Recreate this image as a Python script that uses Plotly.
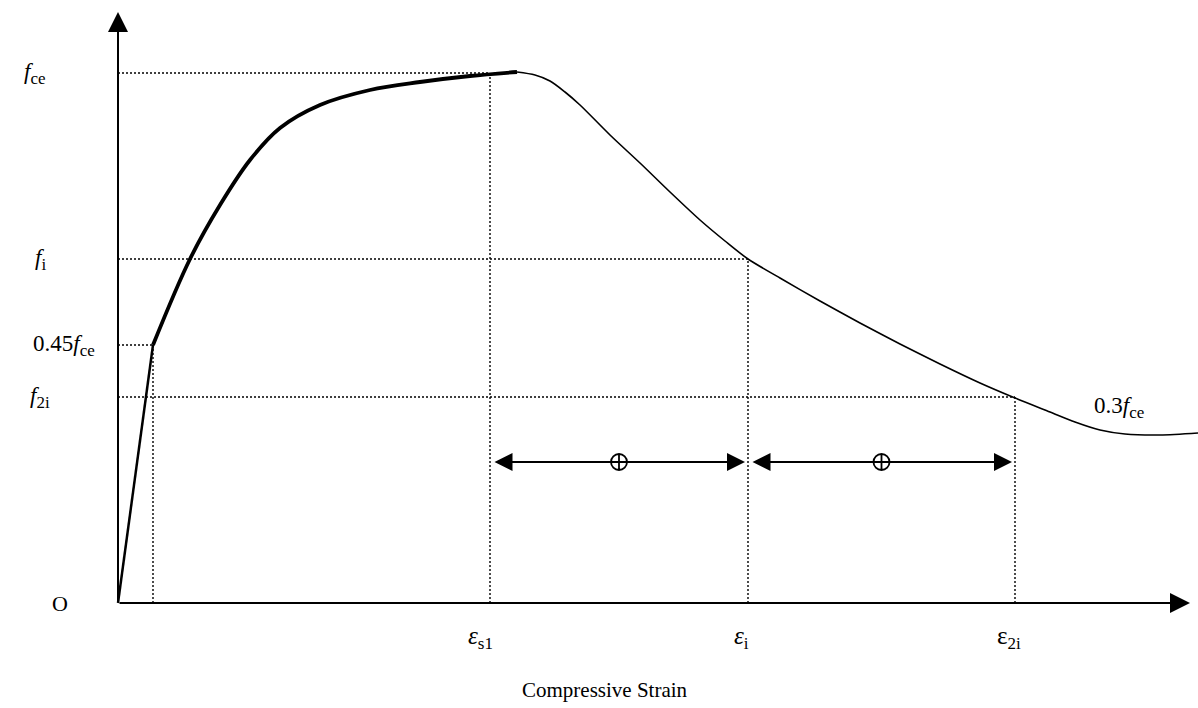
import plotly.graph_objects as go

# ---- data (strain / stress in drawing units, origin at O) ----
strain_initial = [0, 24, 35]
stress_initial = [0, 180, 258]

strain_rise = [35, 72, 102, 132, 162, 202, 252, 302, 352, 399]
stress_rise = [258, 344, 398, 443, 475, 498, 513, 521, 527, 531]

strain_fall = [399, 417, 432, 447, 462, 492, 522, 552, 582, 607, 630, 662, 702, 742, 782,
               822, 862, 897, 932, 957, 982, 1007, 1042, 1080]
stress_fall = [531, 528, 522, 511, 498, 468, 440, 411, 383, 362, 344, 325, 302, 280, 259,
               239, 220, 205, 191, 181, 173, 169, 168, 170]

# key levels
eps_045 = 35
eps_s1 = 372
eps_i = 630
eps_2i = 897
f_ce = 530
f_i = 344
f_045 = 258
f_2i = 206
arrow_level = 141

SUB = "<sub><span style='font-size:17px'>{}</span></sub>"
stress_labels = ["<i>f</i>" + SUB.format("ce"), "<i>f</i>" + SUB.format("i"),
                 "0.45<i>f</i>" + SUB.format("ce"), "<i>f</i>" + SUB.format("2i")]
strain_labels = ["<i>ε</i>" + SUB.format("s1"), "<i>ε</i>" + SUB.format("i"),
                 "ε" + SUB.format("2i")]
tail_label = "0.3<i>f</i>" + SUB.format("ce")

FONT = "Liberation Serif"

fig = go.Figure()

dot = dict(color="black", width=1.4, dash="2px,2px")

# dotted guide lines
guides = [
    ([0, eps_s1], [f_ce, f_ce]), ([eps_s1, eps_s1], [0, f_ce]),
    ([0, eps_i], [f_i, f_i]), ([eps_i, eps_i], [0, f_i]),
    ([0, eps_045], [f_045, f_045]), ([eps_045, eps_045], [0, f_045]),
    ([0, eps_2i], [f_2i, f_2i]), ([eps_2i, eps_2i], [0, f_2i]),
]
for gx, gy in guides:
    fig.add_trace(go.Scatter(x=gx, y=gy, mode="lines", line=dot,
                             hoverinfo="skip", showlegend=False))

# curve
fig.add_trace(go.Scatter(x=strain_initial, y=stress_initial, mode="lines",
                         line=dict(color="black", width=2.5), showlegend=False))
fig.add_trace(go.Scatter(x=strain_rise, y=stress_rise, mode="lines",
                         line=dict(color="black", width=3.8, shape="spline"),
                         showlegend=False))
fig.add_trace(go.Scatter(x=strain_fall, y=stress_fall, mode="lines",
                         line=dict(color="black", width=1.6, shape="spline", smoothing=0.8),
                         showlegend=False))

# circled-plus markers
fig.add_trace(go.Scatter(x=[(eps_s1 + eps_i) / 2, (eps_i + eps_2i) / 2],
                         y=[arrow_level, arrow_level], mode="markers",
                         marker=dict(symbol="circle-cross-open", size=16, color="black",
                                     line=dict(width=1.8, color="black")),
                         showlegend=False))

ann = []
# axes arrows
ann.append(dict(x=1072, y=0, ax=0, ay=0, xref="x", yref="y", axref="x", ayref="y",
                text="", showarrow=True, arrowhead=2, arrowsize=2.0, arrowwidth=2,
                arrowcolor="black"))
ann.append(dict(x=0, y=591, ax=0, ay=0, xref="x", yref="y", axref="x", ayref="y",
                text="", showarrow=True, arrowhead=2, arrowsize=2.0, arrowwidth=2,
                arrowcolor="black"))
# double arrows
for a, b in [(eps_s1, eps_i), (eps_i, eps_2i)]:
    ann.append(dict(x=b - 3, y=arrow_level, ax=a + 3, ay=arrow_level, xref="x", yref="y",
                    axref="x", ayref="y", text="", showarrow=True, arrowhead=2,
                    startarrowhead=2, arrowside="end+start", arrowsize=1.8,
                    startarrowsize=1.8, arrowwidth=2, arrowcolor="black"))

# stress labels
for lab, yv, xv in zip(stress_labels, [f_ce, f_i, f_045, f_2i], [-84, -78, -54, -78]):
    ann.append(dict(x=xv, y=yv, xref="x", yref="y", text=lab, showarrow=False,
                    font=dict(family=FONT, size=23, color="black")))
ann.append(dict(x=-58, y=0, xref="x", yref="y", text="O", showarrow=False,
                font=dict(family=FONT, size=22, color="black")))
# strain labels
for lab, xv in zip(strain_labels, [eps_s1 - 10, eps_i - 7, eps_2i - 6]):
    ann.append(dict(x=xv, y=-34, xref="x", yref="y", text=lab, showarrow=False,
                    font=dict(family=FONT, size=25, color="black")))
ann.append(dict(x=1001, y=196, xref="x", yref="y", text=tail_label,
                showarrow=False, font=dict(family=FONT, size=23, color="black")))
ann.append(dict(x=487, y=-87, xref="x", yref="y", text="Compressive Strain",
                showarrow=False, font=dict(family=FONT, size=21, color="black")))

fig.update_layout(
    width=1198, height=708,
    margin=dict(l=0, r=0, t=0, b=0, pad=0),
    paper_bgcolor="white", plot_bgcolor="white",
    xaxis=dict(range=[-118, 1080], visible=False, showgrid=False, zeroline=False),
    yaxis=dict(range=[-105, 603], visible=False, showgrid=False, zeroline=False),
    annotations=ann,
    showlegend=False,
)

fig.write_html("out.html")
